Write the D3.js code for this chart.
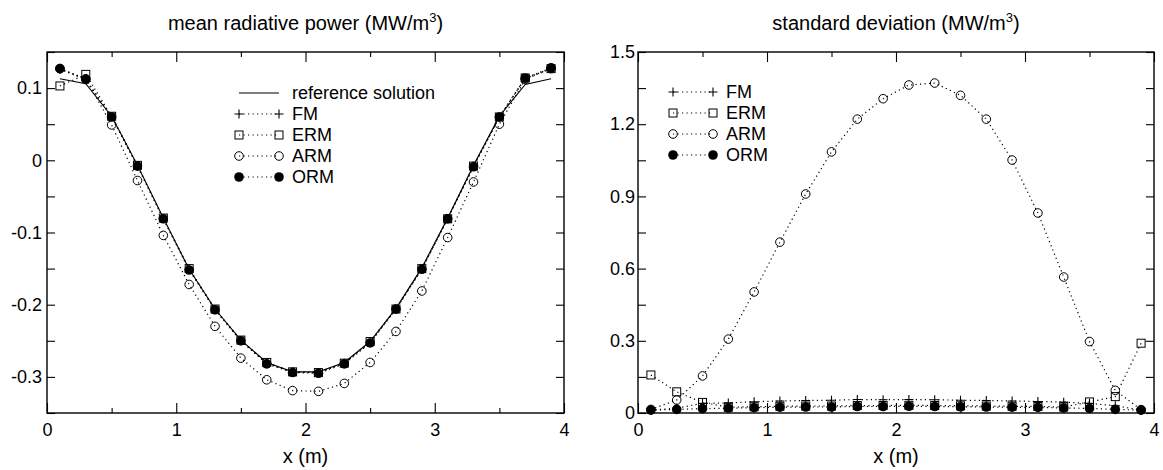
<!DOCTYPE html>
<html><head><meta charset="utf-8">
<script src="https://cdn.jsdelivr.net/npm/d3@7"></script>
<style>
body{margin:0;background:#fff;}
svg{display:block;font-family:"Liberation Sans",Arial,Helvetica,sans-serif;}
</style></head><body>
<svg id="c" width="1163" height="470"></svg>
<script>
// ---- data ----
const xs = [0.1,0.3,0.5,0.7,0.9,1.1,1.3,1.5,1.7,1.9,2.1,2.3,2.5,2.7,2.9,3.1,3.3,3.5,3.7,3.9];

const meanRef = [0.113,0.106,0.061,-0.007,-0.080,-0.151,-0.206,-0.249,-0.280,-0.293,-0.293,-0.280,-0.251,-0.205,-0.149,-0.080,-0.007,0.061,0.105,0.113];
const meanFM  = [0.126,0.112,0.060,-0.008,-0.081,-0.151,-0.207,-0.250,-0.281,-0.293,-0.294,-0.281,-0.252,-0.206,-0.150,-0.081,-0.008,0.060,0.113,0.127];
const meanERM = [0.103,0.119,0.061,-0.007,-0.080,-0.150,-0.206,-0.249,-0.280,-0.293,-0.294,-0.281,-0.251,-0.206,-0.150,-0.081,-0.008,0.060,0.114,0.127];
const meanARM = [0.127,0.113,0.049,-0.028,-0.104,-0.172,-0.230,-0.274,-0.304,-0.319,-0.320,-0.309,-0.280,-0.237,-0.181,-0.107,-0.030,0.050,0.112,0.127];
const meanORM = [0.127,0.112,0.060,-0.008,-0.081,-0.152,-0.207,-0.250,-0.282,-0.294,-0.295,-0.282,-0.253,-0.206,-0.151,-0.081,-0.009,0.060,0.114,0.128];

const sdFM  = [0.012,0.020,0.040,0.042,0.047,0.050,0.052,0.053,0.056,0.055,0.056,0.055,0.053,0.052,0.050,0.048,0.045,0.040,0.030,0.012];
const sdERM = [0.158,0.088,0.044,0.024,0.026,0.028,0.029,0.029,0.031,0.031,0.032,0.031,0.030,0.029,0.028,0.027,0.025,0.046,0.068,0.290];
const sdARM = [0.015,0.054,0.154,0.307,0.503,0.710,0.910,1.085,1.221,1.306,1.363,1.371,1.320,1.221,1.051,0.831,0.565,0.297,0.094,0.014];
const sdORM = [0.012,0.015,0.018,0.020,0.022,0.024,0.025,0.025,0.027,0.027,0.028,0.027,0.026,0.025,0.024,0.023,0.021,0.019,0.015,0.012];

const xMajor = [0,1,2,3,4];
const xMinor = [0.5,1.5,2.5,3.5];
const meanYTicks = [0.1,0,-0.1,-0.2,-0.3];
const meanYTickLabels = ["0.1","0","-0.1","-0.2","-0.3"];
const meanYMinor = [0.15,0.05,-0.05,-0.15,-0.25,-0.35];
const sdYTicks = [0,0.3,0.6,0.9,1.2,1.5];
const sdYTickLabels = ["0","0.3","0.6","0.9","1.2","1.5"];
const sdYMinor = [0.15,0.45,0.75,1.05,1.35];

const titles = ["mean radiative power (MW/m", "standard deviation (MW/m"];
const xLabel = "x (m)";
const legendMean = ["reference solution","FM","ERM","ARM","ORM"];
const legendSd = ["FM","ERM","ARM","ORM"];

// ---- drawing ----
const svg = d3.select("#c");
const plotTop = 52, plotBottom = 413;

function marker(g, type, cx, cy){
  if(type==="plus"){
    g.append("path").attr("d",`M${cx-4.5},${cy}H${cx+4.5}M${cx},${cy-4.5}V${cy+4.5}`)
      .attr("stroke","#000").attr("stroke-width",1.1).attr("fill","none");
  } else if(type==="square"){
    g.append("rect").attr("x",cx-4).attr("y",cy-4).attr("width",8).attr("height",8)
      .attr("stroke","#000").attr("stroke-width",1).attr("fill","none");
  } else if(type==="circle"){
    g.append("circle").attr("cx",cx).attr("cy",cy).attr("r",4.3)
      .attr("stroke","#000").attr("stroke-width",1).attr("fill","none");
  } else if(type==="dot"){
    g.append("circle").attr("cx",cx).attr("cy",cy).attr("r",4.8).attr("fill","#000");
  }
}

function panel(opt){
  const g = svg.append("g");
  const x = d3.scaleLinear().domain([0,4]).range([opt.x0,opt.x1]);
  const y = d3.scaleLinear().domain(opt.ydom).range([plotBottom,plotTop]);

  g.append("g").attr("transform",`translate(0,${plotBottom})`)
    .call(d3.axisBottom(x).tickValues(xMajor).tickFormat(d3.format("d")).tickSize(-10).tickPadding(10));
  g.append("g").attr("transform",`translate(0,${plotBottom})`)
    .call(d3.axisBottom(x).tickValues(xMinor).tickFormat("").tickSize(-5));
  g.append("g").attr("transform",`translate(0,${plotTop})`)
    .call(d3.axisTop(x).tickValues(xMajor).tickFormat("").tickSize(-10));
  g.append("g").attr("transform",`translate(0,${plotTop})`)
    .call(d3.axisTop(x).tickValues(xMinor).tickFormat("").tickSize(-5));
  g.append("g").attr("transform",`translate(${opt.x0},0)`)
    .call(d3.axisLeft(y).tickValues(opt.yt).tickFormat((d,i)=>opt.ytl[i]).tickSize(-8).tickPadding(opt.pad));
  g.append("g").attr("transform",`translate(${opt.x0},0)`)
    .call(d3.axisLeft(y).tickValues(opt.ym).tickFormat("").tickSize(-8));
  g.append("g").attr("transform",`translate(${opt.x1},0)`)
    .call(d3.axisRight(y).tickValues(opt.yt).tickFormat("").tickSize(-8));
  g.append("g").attr("transform",`translate(${opt.x1},0)`)
    .call(d3.axisRight(y).tickValues(opt.ym).tickFormat("").tickSize(-8));
  g.selectAll(".domain").remove();
  g.selectAll(".tick line").attr("stroke","#000").attr("stroke-width",1.1);
  g.selectAll(".tick text").attr("font-size",18).attr("fill","#000")
    .attr("font-family","Liberation Sans, Arial, sans-serif");

  g.append("rect").attr("x",opt.x0).attr("y",plotTop).attr("width",opt.x1-opt.x0).attr("height",plotBottom-plotTop)
    .attr("fill","none").attr("stroke","#000").attr("stroke-width",1.4);

  const t = g.append("text").attr("x",(opt.x0+opt.x1)/2).attr("y",30).attr("text-anchor","middle")
    .attr("font-size",20);
  t.append("tspan").text(opt.title);
  t.append("tspan").text("3").attr("font-size",13).attr("dy",-8);
  t.append("tspan").text(")").attr("dy",8);

  g.append("text").attr("x",(opt.x0+opt.x1)/2).attr("y",463).attr("text-anchor","middle")
    .attr("font-size",20).text(xLabel);

  const line = d3.line().x((d,i)=>x(xs[i])).y(d=>y(d));
  const plot = g.append("g");
  opt.series.forEach(s=>{
    const p = plot.append("path").datum(s.v).attr("d",line).attr("fill","none")
      .attr("stroke","#000").attr("stroke-width",s.solid?1.1:1.2);
    if(!s.solid) p.attr("stroke-dasharray","1.2,3.3");
    if(s.m) s.v.forEach((v,i)=>marker(plot,s.m,x(xs[i]),y(v)));
  });

  const lg = g.append("g");
  opt.legend.forEach((L,i)=>{
    const yy = opt.ly + i*21;
    const l = lg.append("line").attr("x1",opt.lx).attr("x2",opt.lx+40).attr("y1",yy).attr("y2",yy)
      .attr("stroke","#000").attr("stroke-width",1.1);
    if(!L.solid){ l.attr("stroke-dasharray","1.2,3.3"); marker(lg,L.m,opt.lx,yy); marker(lg,L.m,opt.lx+40,yy); }
    lg.append("text").attr("x",opt.lx+53).attr("y",yy).attr("dy","0.36em").attr("font-size",18).text(L.name);
  });
}

panel({
  x0:47, x1:564, ydom:[-0.35,0.15], yt:meanYTicks, ytl:meanYTickLabels, ym:meanYMinor, pad:5,
  title:titles[0],
  series:[
    {v:meanRef, solid:true},
    {v:meanFM, m:"plus"},
    {v:meanERM, m:"square"},
    {v:meanARM, m:"circle"},
    {v:meanORM, m:"dot"}
  ],
  lx:239, ly:93,
  legend:[
    {name:legendMean[0], solid:true},
    {name:legendMean[1], m:"plus"},
    {name:legendMean[2], m:"square"},
    {name:legendMean[3], m:"circle"},
    {name:legendMean[4], m:"dot"}
  ]
});
panel({
  x0:638, x1:1154, ydom:[0,1.5], yt:sdYTicks, ytl:sdYTickLabels, ym:sdYMinor, pad:3,
  title:titles[1],
  series:[
    {v:sdFM, m:"plus"},
    {v:sdERM, m:"square"},
    {v:sdARM, m:"circle"},
    {v:sdORM, m:"dot"}
  ],
  lx:673, ly:92,
  legend:[
    {name:legendSd[0], m:"plus"},
    {name:legendSd[1], m:"square"},
    {name:legendSd[2], m:"circle"},
    {name:legendSd[3], m:"dot"}
  ]
});
</script>
</body></html>
